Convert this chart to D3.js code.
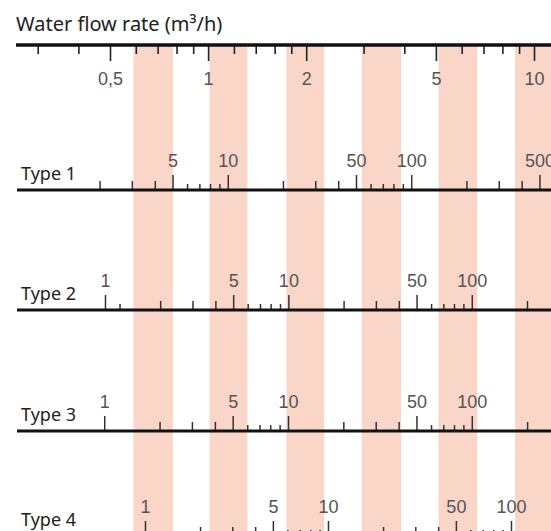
<!DOCTYPE html>
<html>
<head>
<meta charset="utf-8">
<script src="https://cdn.jsdelivr.net/npm/d3@7"></script>
<style>
  body { margin: 0; background: #fff; }
  svg { display: block; }
</style>
</head>
<body>
<div id="chart"></div>
<script>
// top scale (water flow rate, m3/h)
const flowMajor = [0.5, 1, 2, 5, 10];
const flowLabels = ["0,5", "1", "2", "5", "10"];
const flowMinor = [0.3, 0.4, 0.6, 0.7, 0.8, 0.9, 1.2, 1.4, 1.6, 1.8, 3, 4, 6, 7, 8, 9];

// shaded bands, in flow units
const bands = [[0.59, 0.78], [1.01, 1.32], [1.74, 2.27], [2.96, 3.91], [5.09, 6.7], [8.75, 11.5]];

// meter types: value read on each type scale at flow 0.5 and at flow 10
const typeNames = ["Type 1", "Type 2", "Type 3", "Type 4"];
const typeSpan = [[2.28, 467], [1.065, 218.4], [1.075, 218], [0.644, 133.6]];
const typeMajor = [[5, 10, 50, 100, 500], [1, 5, 10, 50, 100], [1, 5, 10, 50, 100], [1, 5, 10, 50, 100]];
const typeMid = [[2, 3, 4, 20, 30, 40, 200, 300, 400], [2, 3, 4, 20, 30, 40, 200], [2, 3, 4, 20, 30, 40, 200], [2, 3, 4, 20, 30, 40, 200]];
const typeMinor = [
  [6, 7, 8, 9, 60, 70, 80, 90],
  [1.2, 6, 7, 8, 9, 60, 70, 80, 90],
  [6, 7, 8, 9, 60, 70, 80, 90],
  [6, 7, 8, 9, 60, 70, 80, 90]
];

const width = 551,
  height = 531;
const topY = 45;
const typeY = [190, 310, 431, 536];

const svg = d3.select("#chart").append("svg").attr("width", width).attr("height", height);

const x = d3.scaleLog().domain([0.5, 10]).range([110, 534]);

// pink bands behind everything
svg
  .append("g")
  .selectAll("rect")
  .data(bands)
  .join("rect")
  .attr("x", d => x(d[0]))
  .attr("width", d => x(d[1]) - x(d[0]))
  .attr("y", topY)
  .attr("height", height - topY)
  .attr("fill", "#fad6c8");

svg
  .append("text")
  .attr("x", 16)
  .attr("y", 31)
  .attr("font-family", "Noto Sans, sans-serif")
  .attr("font-size", 20)
  .attr("fill", "#222")
  .text("Water flow rate (m³/h)");

// top axis: ticks hang below the line
const topAxis = svg.append("g").attr("transform", `translate(0,${topY})`);
topAxis
  .append("g")
  .call(d3.axisBottom(x).tickValues(flowMinor).tickSize(9).tickFormat(""))
  .call(g => g.select(".domain").remove());
topAxis
  .append("g")
  .call(
    d3
      .axisBottom(x)
      .tickValues(flowMajor)
      .tickSize(16)
      .tickPadding(11)
      .tickFormat((d, i) => flowLabels[i])
  )
  .call(g => g.select(".domain").remove())
  .attr("font-family", "Liberation Sans, Arial, sans-serif")
  .attr("font-size", 18)
  .call(g => g.selectAll("text").attr("fill", "#555"));
topAxis.selectAll(".tick line").attr("stroke", "#222").attr("stroke-width", 1.6);
topAxis.append("line").attr("x1", 16).attr("x2", width).attr("stroke", "#111").attr("stroke-width", 3.5);

// type scales: ticks stand on the line
typeNames.forEach((name, i) => {
  const s = d3.scaleLog().domain(typeSpan[i]).range(x.range());
  const g = svg.append("g").attr("transform", `translate(0,${typeY[i]})`);

  g.append("g")
    .call(d3.axisTop(s).tickValues(typeMinor[i]).tickSize(6).tickFormat(""))
    .call(a => a.select(".domain").remove());
  g.append("g")
    .call(d3.axisTop(s).tickValues(typeMid[i]).tickSize(9).tickFormat(""))
    .call(a => a.select(".domain").remove());
  g.append("g")
    .call(d3.axisTop(s).tickValues(typeMajor[i]).tickSize(15).tickPadding(8).tickFormat(d3.format("d")))
    .call(a => a.select(".domain").remove())
    .attr("font-family", "Liberation Sans, Arial, sans-serif")
    .attr("font-size", 18)
    .call(a => a.selectAll("text").attr("fill", "#555"));
  g.selectAll(".tick line").attr("stroke", "#333").attr("stroke-width", 1.5);

  g.append("line").attr("x1", 17).attr("x2", width).attr("stroke", "#111").attr("stroke-width", 3);

  g.append("text")
    .attr("x", 21)
    .attr("y", -10)
    .attr("font-family", "Noto Sans, sans-serif")
    .attr("font-size", 18)
    .attr("fill", "#222")
    .text(name);
});
</script>
</body>
</html>
